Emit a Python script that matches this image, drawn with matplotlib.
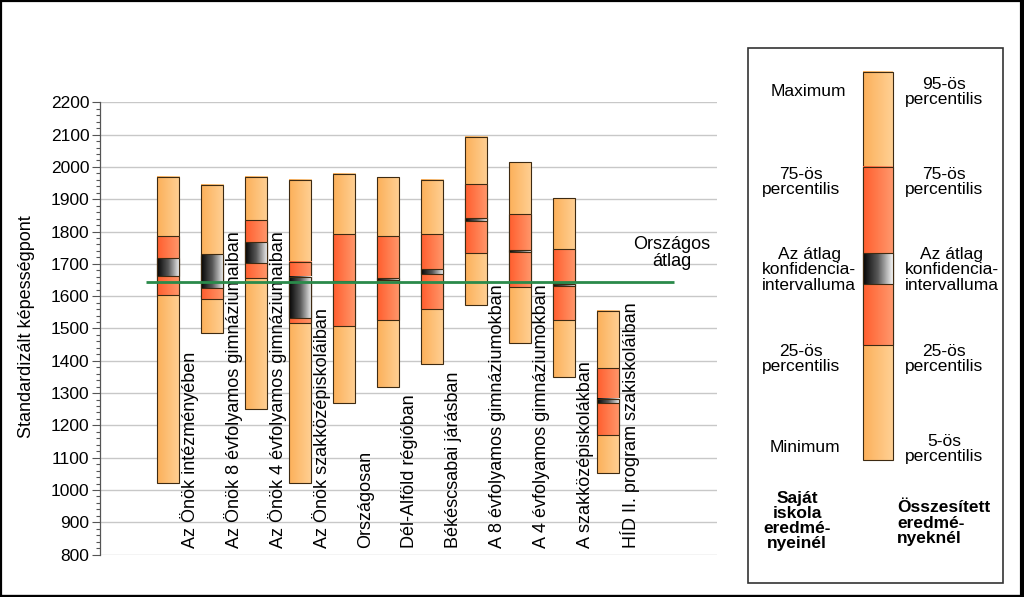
import numpy as np
import matplotlib
matplotlib.use("Agg")
import matplotlib.pyplot as plt
from matplotlib.colors import LinearSegmentedColormap
from matplotlib.patches import Rectangle
from matplotlib.lines import Line2D
from matplotlib.ticker import MultipleLocator

plt.rcParams['font.family'] = ['Liberation Sans', 'DejaVu Sans']

# ---------------- data ----------------
categories = ["Az Önök intézményében", "Az Önök 8 évfolyamos gimnáziumaiban",
              "Az Önök 4 évfolyamos gimnáziumaiban", "Az Önök szakközépiskoláiban",
              "Országosan", "Dél-Alföld régióban", "Békéscsabai járásban",
              "A 8 évfolyamos gimnáziumokban", "A 4 évfolyamos gimnáziumokban",
              "A szakközépiskolákban", "HÍD II. program szakiskoláiban"]
low_vals = [1021, 1485, 1250, 1021, 1268, 1318, 1389, 1572, 1454, 1349, 1052]
q25_vals = [1604, 1592, 1657, 1516, 1509, 1526, 1560, 1733, 1628, 1526, 1170]
ci_low = [1662, 1626, 1704, 1533, 1644, 1651, 1670, 1833, 1738, 1632, 1270]
ci_high = [1717, 1730, 1767, 1660, 1646, 1657, 1684, 1842, 1742, 1639, 1283]
q75_vals = [1786, 1725, 1835, 1705, 1791, 1786, 1791, 1946, 1853, 1745, 1377]
high_vals = [1970, 1945, 1970, 1960, 1978, 1968, 1960, 2093, 2014, 1903, 1555]
national_avg = 1645
yticks = list(range(800, 2201, 100))

# ---------------- styles ----------------
light_cmap = LinearSegmentedColormap.from_list("light", [(252/255, 176/255, 90/255), (255/255, 208/255, 148/255)])
dark_cmap = LinearSegmentedColormap.from_list("dark", [(255/255, 94/255, 46/255), (255/255, 152/255, 108/255)])
ci_cmap = LinearSegmentedColormap.from_list("ci", [(0.02, 0.02, 0.02), (0.35, 0.35, 0.35), (0.95, 0.95, 0.95)])
grad = np.linspace(0, 1, 64).reshape(1, -1)
edge = '#3d2a12'

W, H = 1024, 597
fig = plt.figure(figsize=(W/100, H/100), dpi=100)
fig.patch.set_facecolor('white')

ax = fig.add_axes([100/W, 1 - 554.6/H, 617/W, (554.6 - 102.3)/H])
ax.set_facecolor('none')

bw = 0.5


def seg(ax, x, y0, y1, cmap, z):
    ax.imshow(grad, extent=[x - bw/2, x + bw/2, y0, y1], aspect='auto', cmap=cmap,
              interpolation='bilinear', zorder=z)
    ax.add_patch(Rectangle((x - bw/2, y0), bw, y1 - y0, fill=False, edgecolor=edge,
                           linewidth=0.8, zorder=z + 0.1))


for i in range(len(categories)):
    seg(ax, i, low_vals[i], high_vals[i], light_cmap, 3)
    seg(ax, i, q25_vals[i], q75_vals[i], dark_cmap, 4)
    seg(ax, i, ci_low[i], ci_high[i], ci_cmap, 5)
    ax.text(i + 0.5, 820, categories[i], rotation=90, ha='center', va='bottom',
            fontsize=13, color='black', zorder=6)

ax.plot([-0.5, 11.5], [national_avg, national_avg], color='#2a8a4a', lw=2.0, zorder=7,
        solid_capstyle='butt')
ax.text(11.46, 1734, "Országos\nátlag", ha='center', va='center', fontsize=13,
        linespacing=1.0, zorder=7)

ax.set_xlim(-1.54, 12.48)
ax.set_ylim(800, 2200)
ax.set_yticks(yticks)
ax.set_yticklabels([str(v) for v in yticks], fontsize=12.5)
ax.yaxis.set_minor_locator(MultipleLocator(20))
ax.tick_params(axis='y', which='major', length=6, width=0.8, color='#555555', pad=1.5)
ax.tick_params(axis='y', which='minor', length=3, width=0.8, color='#555555')
ax.set_xticks([])
ax.grid(axis='y', color='#c8c8c8', lw=1.0, zorder=0)
ax.set_axisbelow(True)
for s in ['top', 'right', 'bottom']:
    ax.spines[s].set_visible(False)
ax.spines['left'].set_color('#555555')
ax.spines['left'].set_linewidth(0.9)
fig.text(27/W, 1 - 327/H, "Standardizált képességpont", rotation=90, ha='center',
         va='center', fontsize=13)

# ---------------- legend / frame overlay ----------------
ov2 = fig.add_axes([0, 0, 1, 1], zorder=5)
ov2.axis('off')
ov2.patch.set_alpha(0)

# legend box
ov2.add_patch(Rectangle((747.5, 47.5), 255.5, 535.5, fill=False, edgecolor='#333333', lw=1.2))

# legend bar
lx0, lx1 = 863, 893


def lseg(y0, y1, cmap, z):
    ov2.imshow(grad, extent=[lx0, lx1, y1, y0], aspect='auto', cmap=cmap,
               interpolation='bilinear', zorder=z)
    ov2.add_patch(Rectangle((lx0, y0), lx1 - lx0, y1 - y0, fill=False, edgecolor=edge,
                            lw=0.8, zorder=z + 0.1))


lseg(71.7, 460, light_cmap, 3)
lseg(166.7, 345, dark_cmap, 4)
lseg(253.3, 284, ci_cmap, 5)
ov2.set_xlim(0, W)
ov2.set_ylim(H, 0)

fs = 12.5
ls = 1.0
ov2.text(808, 91.7, "Maximum", ha='center', va='center', fontsize=fs)
ov2.text(801, 181.7, "75-ös\npercentilis", ha='center', va='center', fontsize=fs, linespacing=ls)
ov2.text(809, 270, "Az átlag\nkonfidencia-\nintervalluma", ha='center', va='center', fontsize=fs, linespacing=ls)
ov2.text(801, 359, "25-ös\npercentilis", ha='center', va='center', fontsize=fs, linespacing=ls)
ov2.text(805, 448, "Minimum", ha='center', va='center', fontsize=fs)

ov2.text(944, 91.7, "95-ös\npercentilis", ha='center', va='center', fontsize=fs, linespacing=ls)
ov2.text(944, 181.7, "75-ös\npercentilis", ha='center', va='center', fontsize=fs, linespacing=ls)
ov2.text(952, 270, "Az átlag\nkonfidencia-\nintervalluma", ha='center', va='center', fontsize=fs, linespacing=ls)
ov2.text(944, 359, "25-ös\npercentilis", ha='center', va='center', fontsize=fs, linespacing=ls)
ov2.text(944, 449, "5-ös\npercentilis", ha='center', va='center', fontsize=fs, linespacing=ls)

ov2.text(831, 521, "Saját\niskola\neredmé-\nnyeinél", ha='right', va='center', fontsize=12.5,
         fontweight='bold', linespacing=ls, multialignment='center')
ov2.text(897, 523, "Összesített\neredmé-\nnyeknél", ha='left', va='center', fontsize=12.5,
         fontweight='bold', linespacing=ls, multialignment='left')

# outer frame
ov2.add_line(Line2D([1, 1], [0, 597], color='black', lw=1.6))
ov2.add_line(Line2D([0, 1024], [1, 1], color='black', lw=1.6))
ov2.add_line(Line2D([1021.5, 1021.5], [0, 597], color='black', lw=3.0))
ov2.add_line(Line2D([0, 1024], [595.5, 595.5], color='black', lw=2.4))

fig.savefig("out.png", dpi=100)
